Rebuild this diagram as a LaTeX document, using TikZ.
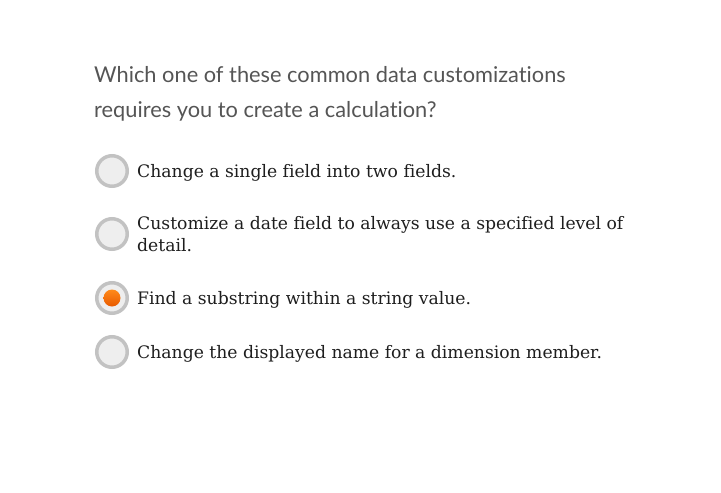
\documentclass[tikz,border=0pt]{standalone}
\usepackage{fontspec}
\setmainfont[Ligatures=NoCommon]{DejaVu Serif}
\newfontfamily\questionfont[Ligatures=NoCommon]{Lato}
\usetikzlibrary{calc}
\usetikzlibrary{positioning}

\definecolor{ringgray}{HTML}{C2C2C2}
\definecolor{radiofill}{HTML}{EEEEEE}
\definecolor{questiongray}{HTML}{555555}
\definecolor{optiontext}{HTML}{1E1E1E}
\definecolor{dotlight}{HTML}{FF8A1A}
\definecolor{dotdark}{HTML}{E85A00}

\begin{document}
\begin{tikzpicture}[x=1pt, y=-1pt,
	radio/.style={circle, draw=ringgray, line width=3.5pt, fill=radiofill, minimum size=30.5pt, inner sep=0pt},
	option/.style={anchor=west, inner sep=0pt, right=8pt of #1, yshift=-2pt, text=optiontext, font=\fontsize{17.2}{22}\selectfont, align=left},
	question/.style={anchor=base west, inner sep=0pt, text=questiongray, font=\questionfont\fontsize{21.8}{23}\selectfont}]

		\def \xmax{721};
		\def \ymax{493};
		\def \radiox{112};

		\fill[white] (0,0) rectangle (\xmax,\ymax);

		\node[question] (question1) at (94,82) {Which one of these common data customizations};
		\node[question] (question2) at (94,117) {requires you to create a calculation?};

		\node[radio] (radio1) at (\radiox,171) {};
		\node[radio] (radio2) at (\radiox,234) {};
		\node[radio] (radio3) at (\radiox,298) {};
		\node[radio] (radio4) at (\radiox,352) {};

		\node[circle, inner sep=0pt, minimum size=17pt, top color=dotlight, bottom color=dotdark] (dot3) at (radio3) {};

		\node[option=radio1] (option1) {Change a single field into two fields.};
		\node[option=radio2, yshift=2pt] (option2) {Customize a date field to always use a specified level of\\detail.};
		\node[option=radio3] (option3) {Find a substring within a string value.};
		\node[option=radio4] (option4) {Change the displayed name for a dimension member.};

	\end{tikzpicture}
\end{document}
